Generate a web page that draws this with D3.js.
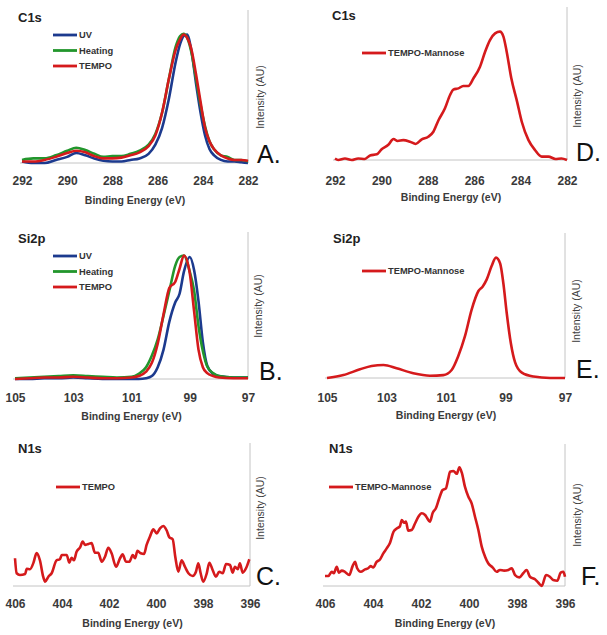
<!DOCTYPE html>
<html>
<head>
<meta charset="utf-8">
<script src="https://cdn.jsdelivr.net/npm/d3@7"></script>
<style>
  body { margin: 0; background: #fff; }
  svg text { font-family: "Liberation Sans", Arial, sans-serif; }
</style>
</head>
<body>
<svg id="chart" width="607" height="635"></svg>
<script>
// ---- data (normalised intensity) ----
var c1sTicks = [292, 290, 288, 286, 284, 282];
var si2pTicks = [105, 103, 101, 99, 97];
var n1sTicks = [406, 404, 402, 400, 398, 396];

// A. C1s
var c1sE = [292, 291.5, 291, 290.5, 290, 289.6, 289.2, 288.8, 288.4, 288, 287.6, 287.2, 286.8, 286.4, 286.1, 285.8, 285.5, 285.2, 285.0, 284.85, 284.7, 284.5, 284.3, 284.1, 283.9, 283.7, 283.5, 283.2, 282.9, 282.6, 282.3, 282];
var c1sUV = [0.01, 0.0, 0.0, 0.02, 0.04, 0.065, 0.05, 0.03, 0.015, 0.01, 0.01, 0.02, 0.03, 0.06, 0.12, 0.23, 0.42, 0.66, 0.78, 0.83, 0.84, 0.73, 0.52, 0.33, 0.18, 0.09, 0.05, 0.02, 0.01, 0.01, 0.005, 0.0];
var c1sHeating = [0.02, 0.03, 0.03, 0.05, 0.08, 0.10, 0.085, 0.06, 0.04, 0.045, 0.045, 0.06, 0.08, 0.12, 0.19, 0.33, 0.55, 0.76, 0.83, 0.845, 0.82, 0.72, 0.55, 0.38, 0.24, 0.14, 0.09, 0.05, 0.04, 0.02, 0.02, 0.01];
var c1sTempo = [0.01, 0.01, 0.02, 0.04, 0.065, 0.08, 0.07, 0.045, 0.03, 0.03, 0.035, 0.05, 0.07, 0.11, 0.18, 0.33, 0.55, 0.74, 0.81, 0.84, 0.82, 0.74, 0.58, 0.40, 0.23, 0.14, 0.09, 0.05, 0.03, 0.02, 0.02, 0.015];

// D. C1s TEMPO-Mannose
var c1sManE = [292, 291.86, 291.57, 291.28, 291.0, 290.71, 290.49, 290.2, 289.99, 289.7, 289.48, 289.3, 289.06, 288.77, 288.52, 288.26, 287.98, 287.76, 287.54, 287.26, 287.04, 286.9, 286.68, 286.47, 286.25, 286.03, 285.75, 285.53, 285.32, 285.1, 284.89, 284.74, 284.6, 284.4, 284.15, 283.95, 283.66, 283.38, 283.09, 282.8, 282.5, 282.24, 282.0];
var c1sManI = [0.01, 0.0, 0.01, 0.0, 0.01, 0.007, 0.03, 0.037, 0.07, 0.1, 0.137, 0.124, 0.13, 0.12, 0.105, 0.135, 0.152, 0.185, 0.26, 0.338, 0.425, 0.46, 0.468, 0.484, 0.484, 0.534, 0.61, 0.708, 0.784, 0.828, 0.839, 0.806, 0.708, 0.534, 0.38, 0.25, 0.13, 0.065, 0.022, 0.022, 0.007, 0.01, 0.0];

// B. Si2p
var si2pE = [105, 104.5, 104, 103.5, 103, 102.5, 102, 101.5, 101, 100.75, 100.5, 100.3, 100.1, 99.9, 99.7, 99.5, 99.35, 99.2, 99.0, 98.85, 98.7, 98.55, 98.4, 98.2, 98, 97.5, 97];
var si2pUV = [0.0, 0.0, 0.005, 0.005, 0.01, 0.005, 0.0, 0.0, 0.0, 0.0, 0.005, 0.02, 0.08, 0.2, 0.39, 0.52, 0.58, 0.73, 0.83, 0.74, 0.53, 0.25, 0.09, 0.035, 0.02, 0.01, 0.01];
var si2pHeating = [0.005, 0.01, 0.015, 0.02, 0.025, 0.02, 0.015, 0.01, 0.015, 0.035, 0.08, 0.16, 0.27, 0.43, 0.6, 0.77, 0.83, 0.84, 0.73, 0.6, 0.36, 0.19, 0.085, 0.04, 0.02, 0.01, 0.01];
var si2pTempo = [0.0, 0.005, 0.01, 0.01, 0.015, 0.01, 0.005, 0.005, 0.01, 0.02, 0.05, 0.11, 0.24, 0.44, 0.62, 0.66, 0.75, 0.84, 0.72, 0.46, 0.2, 0.08, 0.04, 0.02, 0.01, 0.005, 0.005];

// E. Si2p TEMPO-Mannose
var si2pManE = [105, 104.45, 103.89, 103.5, 103.1, 102.66, 102.1, 101.54, 101.09, 100.81, 100.59, 100.36, 100.14, 99.91, 99.77, 99.63, 99.47, 99.32, 99.18, 99.07, 98.96, 98.82, 98.68, 98.45, 98.06, 97.5, 97.0];
var si2pManI = [0.0, 0.02, 0.06, 0.083, 0.09, 0.067, 0.033, 0.016, 0.02, 0.055, 0.15, 0.29, 0.47, 0.6, 0.63, 0.68, 0.77, 0.83, 0.79, 0.65, 0.45, 0.24, 0.11, 0.037, 0.01, 0.0, 0.0];

// C. N1s TEMPO
var n1sTempoE = [406.0, 405.93, 405.79, 405.57, 405.5, 405.36, 405.22, 405.08, 404.94, 404.8, 404.72, 404.58, 404.44, 404.23, 404.09, 404.01, 403.8, 403.69, 403.59, 403.49, 403.38, 403.23, 403.12, 403.02, 402.88, 402.74, 402.6, 402.46, 402.31, 402.17, 402.03, 401.89, 401.7, 401.53, 401.42, 401.28, 401.13, 400.99, 400.89, 400.79, 400.65, 400.51, 400.4, 400.26, 400.11, 399.97, 399.83, 399.69, 399.55, 399.43, 399.29, 399.18, 399.05, 398.91, 398.77, 398.62, 398.44, 398.3, 398.2, 398.1, 397.99, 397.84, 397.73, 397.59, 397.45, 397.31, 397.16, 397.02, 396.85, 396.74, 396.64, 396.52, 396.43, 396.31, 396.17, 396.03];
var n1sTempoI = [0.194, 0.089, 0.077, 0.084, 0.12, 0.117, 0.16, 0.23, 0.18, 0.065, 0.03, 0.065, 0.089, 0.18, 0.187, 0.217, 0.217, 0.163, 0.198, 0.18, 0.24, 0.27, 0.31, 0.287, 0.294, 0.30, 0.233, 0.233, 0.17, 0.205, 0.268, 0.229, 0.135, 0.194, 0.222, 0.17, 0.17, 0.217, 0.194, 0.247, 0.229, 0.224, 0.287, 0.345, 0.396, 0.368, 0.403, 0.42, 0.39, 0.34, 0.327, 0.205, 0.1, 0.18, 0.135, 0.089, 0.07, 0.1, 0.159, 0.089, 0.03, 0.089, 0.163, 0.112, 0.065, 0.1, 0.089, 0.154, 0.147, 0.093, 0.135, 0.117, 0.159, 0.093, 0.124, 0.187];

// F. N1s TEMPO-Mannose
var n1sManE = [406.0, 405.86, 405.72, 405.63, 405.51, 405.42, 405.3, 405.17, 404.99, 404.85, 404.75, 404.66, 404.51, 404.33, 404.2, 404.1, 403.99, 403.85, 403.71, 403.57, 403.43, 403.29, 403.15, 403.01, 402.88, 402.8, 402.71, 402.63, 402.53, 402.39, 402.25, 402.11, 401.97, 401.83, 401.74, 401.63, 401.51, 401.38, 401.24, 401.1, 400.96, 400.86, 400.79, 400.65, 400.51, 400.4, 400.3, 400.17, 400.03, 399.89, 399.75, 399.61, 399.47, 399.33, 399.2, 399.01, 398.85, 398.71, 398.54, 398.36, 398.22, 398.08, 397.9, 397.74, 397.6, 397.46, 397.25, 397.11, 396.97, 396.79, 396.63, 396.49, 396.32, 396.18, 396.07, 396.0];
var n1sManI = [0.07, 0.07, 0.1, 0.09, 0.136, 0.094, 0.108, 0.1, 0.077, 0.14, 0.17, 0.125, 0.1, 0.117, 0.125, 0.14, 0.13, 0.17, 0.187, 0.23, 0.265, 0.305, 0.38, 0.405, 0.42, 0.465, 0.445, 0.453, 0.39, 0.394, 0.44, 0.488, 0.512, 0.5, 0.477, 0.453, 0.516, 0.547, 0.618, 0.676, 0.688, 0.758, 0.805, 0.81, 0.79, 0.836, 0.798, 0.7, 0.63, 0.582, 0.488, 0.394, 0.277, 0.206, 0.16, 0.13, 0.1, 0.113, 0.108, 0.113, 0.125, 0.077, 0.061, 0.09, 0.113, 0.065, 0.047, 0.023, 0.0, 0.077, 0.065, 0.042, 0.037, 0.094, 0.1, 0.065];

var colors = { uv: "#1c3a8e", heating: "#22962c", tempo: "#d51a1c" };

// ---- panel layout ----
var panels = [
  { title: "C1s", letter: "A.", ticks: c1sTicks, dom: [292, 282], x0: 22, x1: 248, yb: 163, yt: 10, gap: 13,
    tx: 18, ty: 22, ix: 260, iy: 97, lx: 257, ly: 163, legX: 53, legY: 35,
    series: [{ name: "UV", e: c1sE, v: c1sUV, c: colors.uv },
             { name: "Heating", e: c1sE, v: c1sHeating, c: colors.heating },
             { name: "TEMPO", e: c1sE, v: c1sTempo, c: colors.tempo }] },
  { title: "C1s", letter: "D.", ticks: c1sTicks, dom: [292, 282], x0: 335, x1: 567, yb: 160, yt: 7, gap: 16,
    tx: 332, ty: 20, ix: 577, iy: 96, lx: 576, ly: 161, legX: 362, legY: 53,
    series: [{ name: "TEMPO-Mannose", e: c1sManE, v: c1sManI, c: colors.tempo }] },
  { title: "Si2p", letter: "B.", ticks: si2pTicks, dom: [105, 97], x0: 15, x1: 248, yb: 379, yt: 232, gap: 14,
    tx: 18, ty: 243, ix: 258, iy: 306, lx: 259, ly: 380, legX: 53, legY: 256,
    series: [{ name: "UV", e: si2pE, v: si2pUV, c: colors.uv },
             { name: "Heating", e: si2pE, v: si2pHeating, c: colors.heating },
             { name: "TEMPO", e: si2pE, v: si2pTempo, c: colors.tempo }] },
  { title: "Si2p", letter: "E.", ticks: si2pTicks, dom: [105, 97], x0: 327, x1: 565, yb: 378, yt: 233, gap: 15,
    tx: 333, ty: 243, ix: 576, iy: 311, lx: 576, ly: 378, legX: 362, legY: 271,
    series: [{ name: "TEMPO-Mannose", e: si2pManE, v: si2pManI, c: colors.tempo }] },
  { title: "N1s", letter: "C.", ticks: n1sTicks, dom: [406, 396], x0: 15, x1: 250, yb: 586, yt: 443, gap: 13,
    tx: 18, ty: 453, ix: 260, iy: 508, lx: 256, ly: 585, legX: 56, legY: 487,
    series: [{ name: "TEMPO", e: n1sTempoE, v: n1sTempoI, c: colors.tempo }] },
  { title: "N1s", letter: "F.", ticks: n1sTicks, dom: [406, 396], x0: 325, x1: 565, yb: 586, yt: 444, gap: 13,
    tx: 329, ty: 453, ix: 577, iy: 515, lx: 581, ly: 585, legX: 329, legY: 487,
    series: [{ name: "TEMPO-Mannose", e: n1sManE, v: n1sManI, c: colors.tempo }] }
];

var svg = d3.select("#chart");

function drawPanel(p)
{
    var g = svg.append("g");
    var x = d3.scaleLinear().domain(p.dom).range([p.x0, p.x1]);
    var y = d3.scaleLinear().domain([0, 1]).range([p.yb, p.yt]);

    // axis lines: bottom + right
    g.append("line")
        .attr("x1", p.x0 - 2).attr("x2", p.x1)
        .attr("y1", p.yb).attr("y2", p.yb)
        .attr("stroke", "#c4c4c4").attr("stroke-width", 1);
    g.append("line")
        .attr("x1", p.x1).attr("x2", p.x1)
        .attr("y1", p.yt).attr("y2", p.yb)
        .attr("stroke", "#c4c4c4").attr("stroke-width", 1);

    var ax = g.append("g")
        .attr("transform", "translate(0," + p.yb + ")")
        .call(d3.axisBottom(x).tickValues(p.ticks).tickSize(0).tickPadding(p.gap).tickFormat(d3.format("d")));
    ax.select(".domain").remove();
    ax.selectAll("text")
        .style("font-family", "'Liberation Sans', Arial, sans-serif")
        .style("font-size", "12px")
        .style("font-weight", "bold")
        .attr("fill", "#3a3a3a");

    g.append("text")
        .attr("x", (p.x0 + p.x1) / 2).attr("y", p.yb + 41)
        .attr("text-anchor", "middle")
        .style("font-size", "10.5px").style("font-weight", "bold")
        .attr("fill", "#3a3a3a")
        .text("Binding Energy (eV)");

    g.append("text")
        .attr("transform", "translate(" + (p.ix + 4) + "," + p.iy + ") rotate(-90)")
        .attr("text-anchor", "middle")
        .style("font-size", "10.5px")
        .attr("fill", "#404040")
        .text("Intensity (AU)");

    g.append("text")
        .attr("x", p.tx).attr("y", p.ty)
        .style("font-size", "13px").style("font-weight", "bold")
        .attr("fill", "#222")
        .text(p.title);

    g.append("text")
        .attr("x", p.lx).attr("y", p.ly)
        .style("font-size", "25px")
        .attr("fill", "#111")
        .text(p.letter);

    var line = d3.line()
        .x(function(d) { return x(d[0]); })
        .y(function(d) { return y(d[1]); })
        .curve(d3.curveMonotoneX);

    p.series.forEach(function(s) {
        var pts = s.e.map(function(e, i) { return [e, s.v[i]]; });
        g.append("path")
            .datum(pts)
            .attr("d", line)
            .attr("fill", "none")
            .attr("stroke", s.c)
            .attr("stroke-width", 2.6)
            .attr("stroke-linejoin", "round");
    });

    // legend
    var leg = g.append("g").attr("transform", "translate(" + p.legX + "," + p.legY + ")");
    p.series.forEach(function(s, i) {
        var row = leg.append("g").attr("transform", "translate(0," + (i * 15.5) + ")");
        row.append("line")
            .attr("x1", 0).attr("x2", 24)
            .attr("stroke", s.c).attr("stroke-width", 2.8);
        row.append("text")
            .attr("x", 26).attr("y", 3.3)
            .style("font-size", "9.3px").style("font-weight", "bold")
            .attr("fill", "#333")
            .text(s.name);
    });
}

panels.forEach(drawPanel);
</script>
</body>
</html>
